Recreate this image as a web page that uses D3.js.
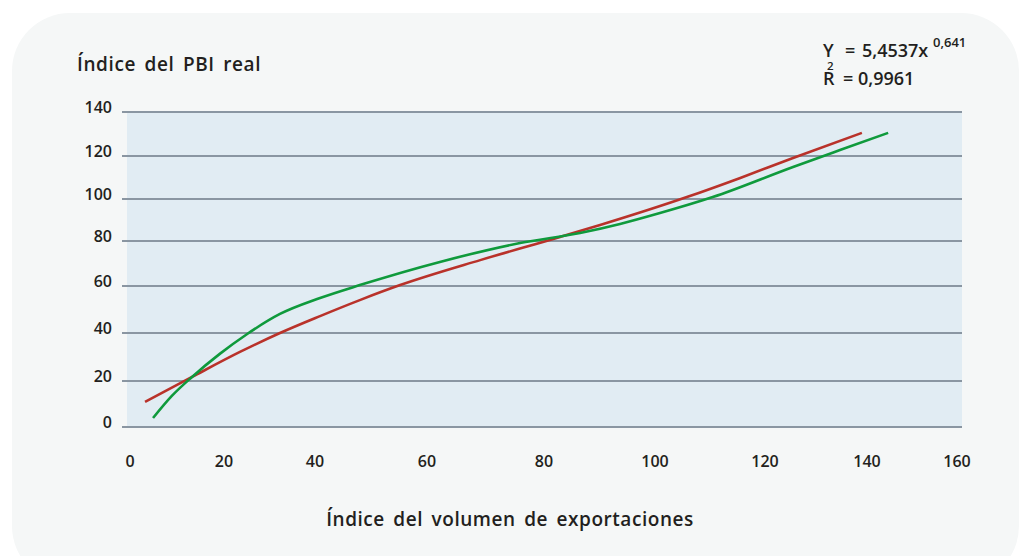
<!DOCTYPE html>
<html>
<head>
<meta charset="utf-8">
<script src="https://cdn.jsdelivr.net/npm/d3@7"></script>
<style>
  body { margin: 0; background: #ffffff; }
  svg { display: block; }
  text { font-family: "Open Sans", "Noto Sans", sans-serif; font-weight: 600; fill: #231f20; }
</style>
</head>
<body>
<svg id="chart" width="1019" height="556"></svg>
<script>
// Axis tick values
const xTicks = [0, 20, 40, 60, 80, 100, 120, 140, 160];
const yTicks = [0, 20, 40, 60, 80, 100, 120, 140];

// Power trend line (Y = 5,4537x^0,641)
const trendX = [3.2, 13.2, 23.5, 32.3, 40.9, 48.0, 55.2, 69.1, 82.9, 90.1, 105.8, 115.5, 125.5, 139.0];
const trendY = [10.9, 21.7, 32.1, 40.0, 47.2, 54.0, 60.4, 71.5, 81.9, 87.6, 100.9, 109.8, 119.1, 130.5];

// Observed relation: export volume index vs. real GDP index
const seriesX = [4.9, 8.9, 13.2, 19.1, 25.1, 32.3, 40.9, 48.0, 62.2, 75.9, 86.5, 93.7, 100.9, 110.5, 125.5, 134.7, 144.7];
const seriesY = [3.9, 13.5, 21.7, 31.3, 39.6, 48.1, 54.9, 60.4, 70.7, 79.1, 83.8, 88.1, 93.3, 100.9, 114.9, 122.7, 130.5];

// Labels
const yTitle = "Índice del PBI real";
const xTitle = "Índice del volumen de exportaciones";
const eqLabel = ["Y", "=", "5,4537x"];
const eqExponent = "0,641";
const r2Label = ["R", "= 0,9961"];
const r2Exponent = "2";

const svg = d3.select("#chart");

// Card background
svg.append("rect")
  .attr("x", 12).attr("y", 13)
  .attr("width", 1007).attr("height", 571)
  .attr("rx", 58).attr("ry", 58)
  .attr("fill", "#f5f7f7");

// Scales (hand-spaced axis, piecewise linear)
const x = d3.scaleLinear()
  .domain(xTicks)
  .range([130, 224, 315, 427, 544, 655, 765, 867, 957]);
const y = d3.scaleLinear()
  .domain(yTicks)
  .range([427, 381, 333, 286, 241, 199, 156, 112]);

const plotLeft = x(0) - 3, plotRight = x(160) + 5;

// Plot area
svg.append("rect")
  .attr("x", plotLeft).attr("y", y(140))
  .attr("width", plotRight - plotLeft)
  .attr("height", y(0) - y(140))
  .attr("fill", "#e1ecf3");

// Horizontal gridlines
svg.append("g").selectAll("line")
  .data(yTicks)
  .join("line")
  .attr("x1", 122).attr("x2", plotRight)
  .attr("y1", d => y(d)).attr("y2", d => y(d))
  .attr("stroke", "#8a96a2")
  .attr("stroke-width", 2.2);

// Y tick labels
svg.append("g").selectAll("text")
  .data(yTicks)
  .join("text")
  .attr("x", 112)
  .attr("y", d => y(d) + 1)
  .attr("text-anchor", "end")
  .attr("font-size", 16)
  .text(d => d);

// X tick labels
svg.append("g").selectAll("text")
  .data(xTicks)
  .join("text")
  .attr("x", d => x(d))
  .attr("y", 467)
  .attr("text-anchor", "middle")
  .attr("font-size", 16)
  .text(d => d);

// Lines
const line = d3.line()
  .x(d => x(d[0]))
  .y(d => y(d[1]))
  .curve(d3.curveMonotoneX);

svg.append("path")
  .datum(trendX.map((v, i) => [v, trendY[i]]))
  .attr("d", line)
  .attr("fill", "none")
  .attr("stroke", "#b9322a")
  .attr("stroke-width", 2.6);

svg.append("path")
  .datum(seriesX.map((v, i) => [v, seriesY[i]]))
  .attr("d", line)
  .attr("fill", "none")
  .attr("stroke", "#0f9a3c")
  .attr("stroke-width", 2.6);

// Axis titles
svg.append("text")
  .attr("x", 77).attr("y", 71)
  .attr("font-size", 19)
  .attr("letter-spacing", 0.6)
  .attr("word-spacing", 3)
  .text(yTitle);

svg.append("text")
  .attr("x", 510).attr("y", 526)
  .attr("text-anchor", "middle")
  .attr("font-size", 19)
  .attr("letter-spacing", 0.55)
  .attr("word-spacing", 3)
  .text(xTitle);

// Regression equation
const eq = svg.append("g");
const eqX = [823, 845, 862];
eq.selectAll("text.eq")
  .data(eqLabel)
  .join("text")
  .attr("class", "eq")
  .attr("x", (d, i) => eqX[i]).attr("y", 57)
  .attr("font-size", 18)
  .text(d => d);
eq.append("text")
  .attr("x", 933).attr("y", 47)
  .attr("font-size", 13)
  .text(eqExponent);
const r2X = [823, 843];
eq.selectAll("text.r2")
  .data(r2Label)
  .join("text")
  .attr("class", "r2")
  .attr("x", (d, i) => r2X[i]).attr("y", 85)
  .attr("font-size", 18)
  .text(d => d);
eq.append("text")
  .attr("x", 827).attr("y", 70)
  .attr("font-size", 11.5)
  .text(r2Exponent);
</script>
</body>
</html>
